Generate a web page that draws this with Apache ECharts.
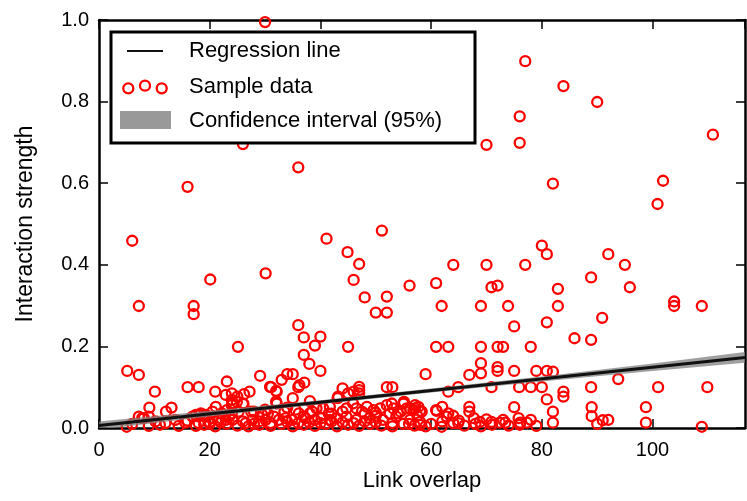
<!DOCTYPE html>
<html>
<head>
<meta charset="utf-8">
<script src="https://cdn.jsdelivr.net/npm/echarts@6/dist/echarts.min.js"></script>
<style>html,body{margin:0;padding:0;background:#fff;}#c{width:747px;height:501px;}</style>
</head>
<body>
<div id="c"></div>
<script>
// Sample data (Link overlap, Interaction strength)
var sampleX = [30,77,83.9,90,76,70,76,110.9,82,101.9,100.9,26,36,16,
6,41.1,51.1,44.9,47,46,56.1,48,52,50,52,20.1,30.1,7.2,17.1,17.1,36,37,40,39,45,25.1,37,38,40,5.1,7.2,10.1,29.1,16,18,23.1,21,33,34,35,31.1,32.1,37.1,36,27.2,26.2,44,47,52,53,9.1,12.1,13.1,35,38.1,
80,80.9,92,64,70,77,95,88.9,60.9,70.9,72,82.9,95.9,61.9,69,73.9,82.9,103.9,103.9,108.9,90.9,80.9,75,85.9,88.9,60.9,63.1,69,72,73,78,59,69,69,66.9,72,72,75,79,80.9,82,93.8,101,109.9,88.9,80,78,75.9,70.9,64.9,63.1,83.9,83.9,80.9,82,75,89,89,91,90,98.8,98.8,108.9,66.9,66.9,92,
7.2,8.1,17.5,18.4,19.3,21.1,22.9,24,25,24.1,26,30.9,32,36.2,32,46,43.2,55.1,57.1,
43.1,45,47,47,39.3,40.5,41.7,44.7,45.9,46.5,48.4,49.6,50.8,52,52.9,53.2,55.6,56.8,57.7,
44.7,46.5,48.9,51.3,53.7,56.2,58,39,40.2,41.7,42.9,37,38.1,36.1,37.3,34.9,33.7,32.5,31.6,30.1,28.9,27.7,26.5,32.1,24,24,24.9,26.1,23.1,22.2,24,25.2,16.9,18.1,19.3,20.5,21.7,22.9,24.1,7.8,9,10.2,12,13.8,15.6,9,14.4,17.5,
55,56.2,57.1,58,61,62,63.1,64,62.8,67.7,68.8,70,70.9,72.4,73.4,75.8,76.1,77.3,82,61.9,64,64.9,58.3,60.9,
19,21,23,25,27,29,31,33,35,37,39,41,43,45,47,49,51,53,55,57,59,66,69,74,79,28,30,34,42,48,50,54,29.5,20,16,11,6,5,
18,20,22,26,28,31,34,36,38,40,42,44,46,48,50,53,56,58,60,62,65,68,71,73,76,78,
20.5,23.5,27.5,30.5,33.5,35.5,38.5,41.5,44,47.5,50,52.5,54.5,57.5];
var sampleY = [0.995,0.899,0.838,0.799,0.764,0.694,0.699,0.719,0.599,0.606,0.549,0.696,0.639,0.591,
0.459,0.464,0.484,0.431,0.402,0.363,0.349,0.32,0.322,0.283,0.283,0.364,0.379,0.299,0.299,0.279,0.252,0.222,0.224,0.202,0.199,0.199,0.179,0.157,0.14,0.14,0.13,0.089,0.128,0.1,0.1,0.114,0.089,0.118,0.132,0.132,0.1,0.089,0.111,0.1,0.089,0.083,0.097,0.101,0.1,0.1,0.05,0.04,0.05,0.073,0.066,
0.447,0.426,0.426,0.4,0.4,0.4,0.4,0.369,0.355,0.345,0.349,0.341,0.345,0.299,0.299,0.299,0.299,0.31,0.299,0.299,0.27,0.259,0.249,0.22,0.216,0.199,0.199,0.199,0.199,0.199,0.199,0.132,0.159,0.134,0.13,0.149,0.14,0.14,0.14,0.14,0.138,0.12,0.1,0.1,0.1,0.1,0.1,0.1,0.1,0.1,0.089,0.089,0.077,0.07,0.04,0.051,0.051,0.029,0.019,0.01,0.051,0.013,0.003,0.052,0.04,0.02,
0.028,0.024,0.032,0.036,0.032,0.052,0.081,0.085,0.077,0.06,0.06,0.101,0.091,0.105,0.065,0.089,0.077,0.064,0.056,
0.073,0.085,0.093,0.085,0.048,0.048,0.052,0.048,0.06,0.048,0.052,0.044,0.048,0.056,0.06,0.048,0.048,0.044,0.052,
0.028,0.02,0.024,0.02,0.028,0.02,0.015,0.02,0.024,0.02,0.024,0.028,0.036,0.036,0.024,0.02,0.024,0.02,0.028,0.02,0.016,0.02,0.012,0.06,0.069,0.056,0.064,0.059,0.044,0.036,0.036,0.04,0.028,0.032,0.028,0.024,0.02,0.02,0.02,0.024,0.028,0.016,0.012,0.02,0.013,0.005,0.005,0.005,
0.06,0.048,0.048,0.042,0.042,0.052,0.036,0.03,0.028,0.024,0.015,0.021,0.015,0.013,0.013,0.024,0.013,0.013,0.013,0.003,0.012,0.012,0.04,0.044,
0.008,0.004,0.01,0.006,0.004,0.008,0.005,0.01,0.004,0.008,0.005,0.01,0.004,0.008,0.005,0.01,0.006,0.004,0.01,0.006,0.004,0.006,0.004,0.006,0.005,0.04,0.045,0.05,0.035,0.035,0.03,0.036,0.032,0.015,0.018,0.008,0.01,0.003,
0.012,0.01,0.014,0.016,0.01,0.012,0.015,0.012,0.014,0.012,0.016,0.014,0.012,0.016,0.014,0.012,0.01,0.008,0.01,0.016,0.018,0.01,0.008,0.02,0.008,0.02,
0.04,0.028,0.04,0.035,0.04,0.045,0.04,0.035,0.04,0.04,0.038,0.035,0.04,0.03];

// Regression line endpoints
var regX = [0, 116.7];
var regY = [0.006, 0.173];
// 95% confidence band
var ciX = [0, 20, 40, 60, 80, 100, 116.7];
var ciLower = [-0.004, 0.028, 0.058, 0.087, 0.114, 0.140, 0.160];
var ciUpper = [0.016, 0.042, 0.068, 0.097, 0.126, 0.158, 0.186];

var xTicks = [0, 20, 40, 60, 80, 100];
var yTicks = ['0.0', '0.2', '0.4', '0.6', '0.8', '1.0'];

var FONT = '"Liberation Sans", Arial, sans-serif';
var chart = echarts.init(document.getElementById('c'), null, {renderer: 'canvas'});

var scatterData = sampleX.map(function (x, i) { return [x, sampleY[i]]; });
var regData = regX.map(function (x, i) { return [x, regY[i]]; });

function axisBase(extra) {
  var base = {
    type: 'value',
    axisLine: {show: true, onZero: false, lineStyle: {color: '#000', width: 2.5}},
    axisTick: {show: true, inside: true, length: 9, lineStyle: {color: '#000', width: 1.5}},
    splitLine: {show: false}
  };
  for (var k in extra) base[k] = extra[k];
  return base;
}

var option = {
  animation: false,
  backgroundColor: '#fff',
  grid: {left: 99, right: 2, top: 20, bottom: 73, containLabel: false},
  xAxis: [
    axisBase({
      position: 'bottom', min: 0, max: 116.7, interval: 20,
      name: 'Link overlap', nameLocation: 'middle', nameGap: 42,
      nameTextStyle: {fontFamily: FONT, fontSize: 22, color: '#000'},
      axisLabel: {
        fontFamily: FONT, fontSize: 20, color: '#000', margin: 12, showMaxLabel: false,
        formatter: function (v) { return xTicks.indexOf(v) >= 0 ? String(v) : ''; }
      }
    }),
    axisBase({position: 'top', min: 0, max: 116.7, interval: 20, axisLabel: {show: false}})
  ],
  yAxis: [
    axisBase({
      position: 'left', min: 0, max: 1, interval: 0.2,
      name: 'Interaction strength', nameLocation: 'middle', nameGap: 62,
      nameTextStyle: {fontFamily: FONT, fontSize: 23, color: '#000'},
      axisLabel: {
        fontFamily: FONT, fontSize: 20, color: '#000', margin: 10,
        formatter: function (v) { return yTicks[Math.round(v / 0.2)]; }
      }
    }),
    axisBase({position: 'right', min: 0, max: 1, interval: 0.2, axisLabel: {show: false}})
  ],
  series: [
    {
      type: 'scatter',
      name: 'Sample data',
      data: scatterData,
      symbol: 'circle',
      symbolSize: 10,
      itemStyle: {color: 'rgba(0,0,0,0)', borderColor: '#ff0000', borderWidth: 2.3, opacity: 1},
      z: 2
    },
    {
      type: 'custom',
      name: 'Confidence interval (95%)',
      data: [[0, 0]],
      renderItem: function (params, api) {
        var pts = [];
        for (var i = 0; i < ciX.length; i++) pts.push(api.coord([ciX[i], ciUpper[i]]));
        for (var j = ciX.length - 1; j >= 0; j--) pts.push(api.coord([ciX[j], ciLower[j]]));
        return {
          type: 'polygon',
          shape: {points: pts},
          style: {fill: 'rgba(128,128,128,0.75)'}
        };
      },
      clip: true,
      z: 3
    },
    {
      type: 'line',
      name: 'Regression line',
      data: regData,
      symbol: 'none',
      lineStyle: {color: '#111', width: 3},
      z: 4
    }
  ],
  graphic: [
    {type: 'rect', z: 100, shape: {x: 111, y: 32, width: 364, height: 111},
     style: {fill: '#fff', stroke: '#000', lineWidth: 3}},
    {type: 'line', z: 101, shape: {x1: 127, y1: 51, x2: 163, y2: 51},
     style: {stroke: '#111', lineWidth: 2}},
    {type: 'circle', z: 101, shape: {cx: 128.3, cy: 88.3, r: 5}, style: {fill: 'none', stroke: '#ff0000', lineWidth: 2.3}},
    {type: 'circle', z: 101, shape: {cx: 145, cy: 85.7, r: 5}, style: {fill: 'none', stroke: '#ff0000', lineWidth: 2.3}},
    {type: 'circle', z: 101, shape: {cx: 161.7, cy: 88.3, r: 5}, style: {fill: 'none', stroke: '#ff0000', lineWidth: 2.3}},
    {type: 'rect', z: 101, shape: {x: 120, y: 111, width: 51, height: 18}, style: {fill: '#999'}},
    {type: 'text', z: 101, x: 189, y: 51,
     style: {text: 'Regression line', font: '22px ' + FONT, fill: '#000', verticalAlign: 'middle', textVerticalAlign: 'middle'}},
    {type: 'text', z: 101, x: 189, y: 87,
     style: {text: 'Sample data', font: '22px ' + FONT, fill: '#000', verticalAlign: 'middle', textVerticalAlign: 'middle'}},
    {type: 'text', z: 101, x: 189, y: 121,
     style: {text: 'Confidence interval (95%)', font: '22px ' + FONT, fill: '#000', verticalAlign: 'middle', textVerticalAlign: 'middle'}}
  ]
};
chart.setOption(option);
</script>
</body>
</html>
